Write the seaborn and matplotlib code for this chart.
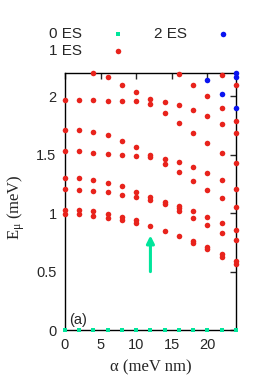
import matplotlib
matplotlib.use("Agg")
import matplotlib.pyplot as plt
import seaborn as sns
import pandas as pd

# ==========================================
# DATA
# ==========================================

alpha = [0, 2, 4, 6, 8, 10, 12, 14, 16, 18, 20, 22, 24]

# 0 ES states (ground level)
es0_energy = [0.0] * len(alpha)

# 1 ES states, one list per alpha column
es1_levels = [
    [0.997, 1.028, 1.207, 1.30, 1.53, 1.716, 1.974],
    [0.99, 1.026, 1.20, 1.30, 1.53, 1.71, 1.974],
    [0.977, 1.017, 1.19, 1.284, 1.52, 1.695, 1.968, 2.20],
    [0.957, 0.997, 1.18, 1.26, 1.51, 1.667, 1.965, 2.164],
    [0.94, 0.968, 1.16, 1.23, 1.50, 1.62, 1.965, 2.10],
    [0.92, 0.942, 1.14, 1.184, 1.49, 1.566, 1.965, 2.034],
    [0.89, 1.115, 1.135, 1.485, 1.50, 1.937, 1.98],
    [0.85, 1.078, 1.092, 1.424, 1.466, 1.862, 1.954],
    [0.805, 1.015, 1.045, 1.06, 1.35, 1.437, 1.776, 1.928, 2.195],
    [0.741, 0.761, 0.963, 1.017, 1.273, 1.397, 1.69, 1.888, 2.10],
    [0.69, 0.713, 0.897, 0.97, 1.198, 1.345, 1.60, 1.833, 2.0],
    [0.627, 0.652, 0.833, 0.914, 1.127, 1.284, 1.515, 1.764, 1.897, 2.187],
    [0.569, 0.589, 0.77, 0.853, 1.054, 1.207, 1.428, 1.687, 1.79, 2.095],
]

# 2 ES states
es2_alpha = [20, 22, 24, 24, 24]
es2_energy = [2.138, 2.02, 1.897, 2.17, 2.204]

x_ticks = [0, 5, 10, 15, 20]
y_ticks = [0, 0.5, 1, 1.5, 2]
y_tick_labels = ["0", "0.5", "1", "1.5", "2"]

arrow_alpha = 12
arrow_from = 0.5
arrow_to = 0.81

GREEN = "#00e59b"
RED = "#e8231c"
BLUE = "#0a14f0"

# ==========================================
# TABLES
# ==========================================

df0 = pd.DataFrame({"alpha": alpha, "E": es0_energy})

rows = []
for a, levels in zip(alpha, es1_levels):
    for e in levels:
        rows.append({"alpha": a, "E": e})
df1 = pd.DataFrame(rows)

df2 = pd.DataFrame({"alpha": es2_alpha, "E": es2_energy})

# ==========================================
# PLOT
# ==========================================

sns.set_style("white")
plt.rcParams["font.family"] = ["Liberation Sans", "DejaVu Sans"]
plt.rcParams["mathtext.fontset"] = "custom"
plt.rcParams["mathtext.rm"] = "Liberation Serif"
plt.rcParams["mathtext.it"] = "Liberation Serif"

fig = plt.figure(figsize=(2.74, 3.84), dpi=100)
ax = fig.add_axes([0.237, 0.1406, 0.624, 0.669])

sns.scatterplot(data=df0, x="alpha", y="E", ax=ax, color=GREEN, marker="s",
                s=7, linewidth=0, label="0 ES", clip_on=False, zorder=3)
sns.scatterplot(data=df1, x="alpha", y="E", ax=ax, color=RED, marker="o",
                s=16, linewidth=0, label="1 ES", clip_on=False, zorder=3)
sns.scatterplot(data=df2, x="alpha", y="E", ax=ax, color=BLUE, marker="o",
                s=16, linewidth=0, label="2 ES", clip_on=False, zorder=3)

ax.annotate("", xy=(arrow_alpha, arrow_to), xytext=(arrow_alpha, arrow_from),
            arrowprops=dict(arrowstyle="-|>", color=GREEN, lw=2.2,
                            mutation_scale=11, shrinkA=0, shrinkB=0))

ax.set_xlim(0, 24)
ax.set_ylim(0, 2.2)
ax.set_xticks(x_ticks)
ax.set_yticks(y_ticks)
ax.set_yticklabels(y_tick_labels)

ax.tick_params(direction="in", length=4, width=1, labelsize=10.5,
               top=True, right=True, pad=6)
for spine in ax.spines.values():
    spine.set_color("black")
    spine.set_linewidth(1)

ax.set_xlabel("α (meV nm)", family="Liberation Serif", fontsize=12,
              labelpad=5)
ax.set_ylabel(r"$\mathrm{E}_{\mu}$ (meV)", family="Liberation Serif",
              fontsize=12)
ax.yaxis.set_label_coords(-0.22, 0.48)

ax.text(0.6, 0.03, "(a)", fontsize=10.5, ha="left", va="bottom")

ax.legend(loc="lower left", bbox_to_anchor=(-0.13, 1.035), ncol=2,
          markerfirst=False, frameon=False, fontsize=11, handletextpad=1.9,
          columnspacing=1.8, labelspacing=0.2, borderaxespad=0,
          handlelength=1.0, markerscale=1.0)

plt.savefig("out.png", dpi=100)
plt.close()
